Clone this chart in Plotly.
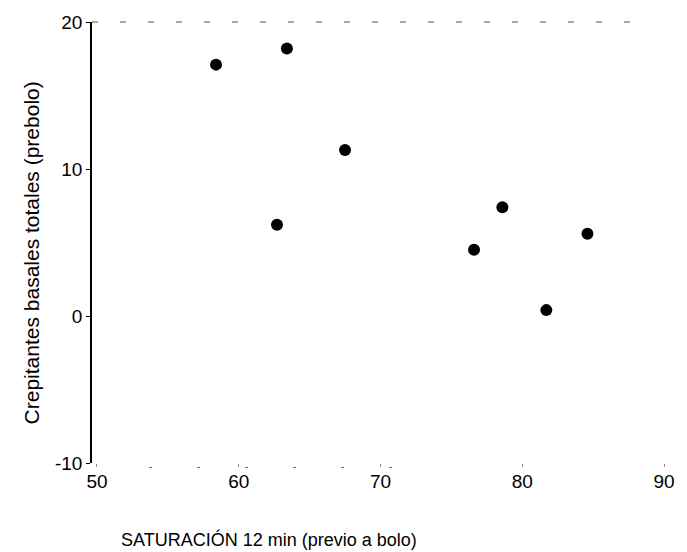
import plotly.graph_objects as go

saturacion = [58.4, 63.4, 67.5, 62.7, 76.6, 78.6, 84.6, 81.7]
crepitantes = [17.1, 18.2, 11.3, 6.2, 4.5, 7.4, 5.6, 0.4]
x_ticks = [50, 60, 70, 80, 90]
y_ticks = [-10, 0, 10, 20]
y_tick_text = ["-10", "0", "10", "20"]
x_title = "SATURACIÓN 12 min (previo a bolo)"
y_title = "Crepitantes basales totales (prebolo)"

FONT = "Liberation Sans, Arial, sans-serif"

fig = go.Figure()
fig.add_trace(go.Scatter(
    x=saturacion, y=crepitantes, mode="markers",
    marker=dict(color="black", size=12, line=dict(color="black", width=0)),
    showlegend=False, hoverinfo="skip"))

fig.update_layout(
    width=687, height=552,
    margin=dict(l=92, r=12, t=20, b=89),
    paper_bgcolor="white", plot_bgcolor="white",
    font=dict(family=FONT, size=18, color="black"),
    xaxis=dict(range=[49.65, 90], tickvals=x_ticks, showgrid=False, zeroline=False,
               showline=False, ticks="outside", ticklen=3, tickwidth=1,
               tickcolor="#888888", ticklabelstandoff=-2,
               tickfont=dict(size=19)),
    yaxis=dict(range=[-10, 20], tickvals=y_ticks, ticktext=y_tick_text,
               showgrid=False, zeroline=False,
               showline=True, linecolor="black", linewidth=1.5,
               ticks="outside", ticklen=4, tickcolor="black",
               tickfont=dict(size=19)),
    shapes=[
        dict(type="line", xref="paper", yref="paper", x0=0, x1=0.96, y0=1, y1=1,
             line=dict(color="#555555", width=1, dash="6px,22px")),
        dict(type="line", xref="paper", yref="paper", x0=0.1, x1=0.55, y0=-0.01, y1=-0.01,
             line=dict(color="#666666", width=1, dash="3px,45px")),
    ],
    annotations=[
        dict(text=x_title, xref="paper", yref="paper", x=0.048, y=-0.174,
             xanchor="left", yanchor="middle", showarrow=False,
             font=dict(size=18, family=FONT)),
        dict(text=y_title, xref="paper", yref="paper", x=-0.106, y=0.476,
             xanchor="center", yanchor="middle", textangle=-90, showarrow=False,
             font=dict(size=21, family=FONT)),
    ],
)

fig.write_html("out.html")
